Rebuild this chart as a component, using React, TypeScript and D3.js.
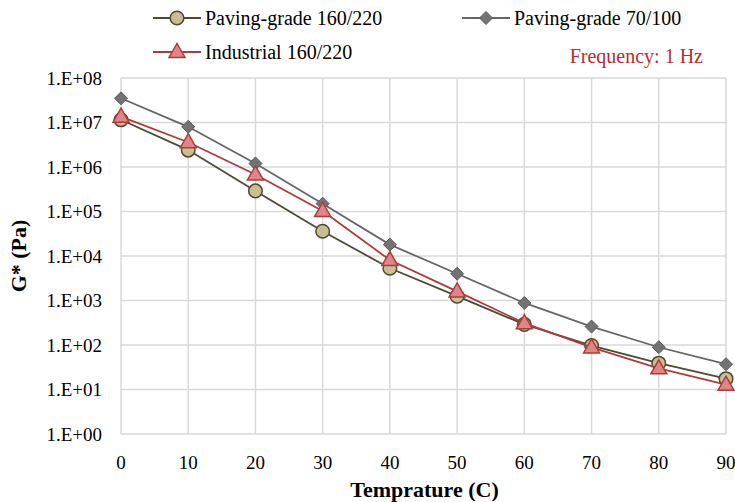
import React, { useEffect, useRef } from 'react'
import * as d3 from 'd3'

// temperatures (C)
const temps = [0, 10, 20, 30, 40, 50, 60, 70, 80, 90]

// G* (Pa) per binder
const paving160 = [1.15e7, 2.4e6, 2.9e5, 3.6e4, 5.3e3, 1.25e3, 2.9e2, 97, 39, 17.5]
const paving70 = [3.5e7, 8.0e6, 1.2e6, 1.5e5, 1.8e4, 4.0e3, 8.8e2, 2.6e2, 89, 37]
const industrial160 = [1.35e7, 3.6e6, 6.8e5, 1.03e5, 8.1e3, 1.6e3, 3.1e2, 88, 30, 12.8]

const yTicks = [1e0, 1e1, 1e2, 1e3, 1e4, 1e5, 1e6, 1e7, 1e8]
const xTicks = [0, 10, 20, 30, 40, 50, 60, 70, 80, 90]

const series = [
  { name: 'Paving-grade 160/220', values: paving160, line: '#4d4a33', fill: '#c9bd91', stroke: '#4d4a33', marker: 'circle' },
  { name: 'Paving-grade 70/100', values: paving70, line: '#666666', fill: '#737373', stroke: '#5a5a5a', marker: 'diamond' },
  { name: 'Industrial 160/220', values: industrial160, line: '#b03a3a', fill: '#dc8686', stroke: '#b03a3a', marker: 'triangle' },
]

const fontFamily = "'Liberation Serif', Tinos, 'Times New Roman', 'DejaVu Serif', serif"

function App() {
  const ref = useRef<SVGSVGElement>(null)

  useEffect(() => {
    const width = 735, height = 502
    const margin = { top: 78, right: 9, bottom: 68, left: 121 }
    const svg = d3.select(ref.current)
    svg.selectAll('*').remove()

    const x = d3.scaleLinear([0, 90], [margin.left, width - margin.right])
    const y = d3.scaleLog([1, 1e8], [height - margin.bottom, margin.top])

    // grid
    const grid = svg.append('g').attr('stroke', '#d9d9d9').attr('stroke-width', 1.5)
    grid.selectAll('line.h').data(yTicks).join('line')
      .attr('x1', x(0)).attr('x2', x(90))
      .attr('y1', d => y(d)).attr('y2', d => y(d))
    grid.selectAll('line.v').data(xTicks).join('line')
      .attr('x1', d => x(d)).attr('x2', d => x(d))
      .attr('y1', y(1)).attr('y2', y(1e8))

    const fmt = (d: number) => `1.E+${String(Math.round(Math.log10(d))).padStart(2, '0')}`

    // y tick labels
    svg.append('g').selectAll('text').data(yTicks).join('text')
      .attr('x', x(0) - 19).attr('y', d => y(d)).attr('dy', '0.35em')
      .attr('text-anchor', 'end')
      .style('font-family', fontFamily).attr('font-size', 19).attr('fill', '#000')
      .text(fmt)

    // x tick labels
    svg.append('g').selectAll('text').data(xTicks).join('text')
      .attr('x', d => x(d)).attr('y', y(1) + 35)
      .attr('text-anchor', 'middle')
      .style('font-family', fontFamily).attr('font-size', 19).attr('fill', '#000')
      .text(d => String(d))

    // axis titles
    svg.append('text')
      .attr('x', (x(0) + x(90)) / 2 + 1).attr('y', 497)
      .attr('text-anchor', 'middle')
      .style('font-family', fontFamily).attr('font-size', 22).attr('font-weight', 'bold')
      .text('Temprature (C)')
    svg.append('text')
      .attr('transform', `translate(26,${(y(1) + y(1e8)) / 2}) rotate(-90)`)
      .attr('text-anchor', 'middle')
      .style('font-family', fontFamily).attr('font-size', 22).attr('font-weight', 'bold')
      .text('G* (Pa)')

    const drawMarker = (g: any, kind: string, s: any) => {
      if (kind === 'circle') {
        g.append('circle').attr('r', 6.8).attr('fill', s.fill).attr('stroke', s.stroke).attr('stroke-width', 1.5)
      } else if (kind === 'diamond') {
        g.append('path').attr('d', 'M0,-6.5L6.5,0L0,6.5L-6.5,0Z').attr('fill', s.fill).attr('stroke', s.stroke).attr('stroke-width', 1)
      } else {
        g.append('path').attr('d', 'M0,-8.5L8,5.5L-8,5.5Z').attr('fill', s.fill).attr('stroke', s.stroke).attr('stroke-width', 1.5)
      }
    }

    const line = d3.line<number>().x((_, i) => x(temps[i])).y(d => y(d))

    series.forEach(s => {
      svg.append('path')
        .attr('d', line(s.values))
        .attr('fill', 'none').attr('stroke', s.line).attr('stroke-width', 1.8)
      s.values.forEach((v, i) => {
        const g = svg.append('g').attr('transform', `translate(${x(temps[i])},${y(v)})`)
        drawMarker(g, s.marker, s)
      })
    })

    // legend
    const legendPos = [[153, 18], [462, 18], [153, 52]]
    series.forEach((s, i) => {
      const [lx, ly] = legendPos[i]
      const g = svg.append('g').attr('transform', `translate(${lx},${ly})`)
      g.append('line').attr('x1', 0).attr('x2', 48).attr('y1', 0).attr('y2', 0)
        .attr('stroke', s.line).attr('stroke-width', 1.8)
      const m = g.append('g').attr('transform', 'translate(24,0)')
      drawMarker(m, s.marker, s)
      g.append('text').attr('x', 52).attr('dy', '0.35em')
        .style('font-family', fontFamily).attr('font-size', 20).attr('fill', '#000')
        .text(s.name)
    })

    svg.append('text')
      .attr('x', 703).attr('y', 56).attr('dy', '0.35em')
      .attr('text-anchor', 'end')
      .style('font-family', fontFamily).attr('font-size', 20).attr('fill', '#c0282c')
      .text('Frequency: 1 Hz')
  }, [])

  return (
    <svg ref={ref} width={735} height={502}
      style={{ position: 'absolute', left: 0, top: 0, background: '#fff' }} />
  )
}

export default App
